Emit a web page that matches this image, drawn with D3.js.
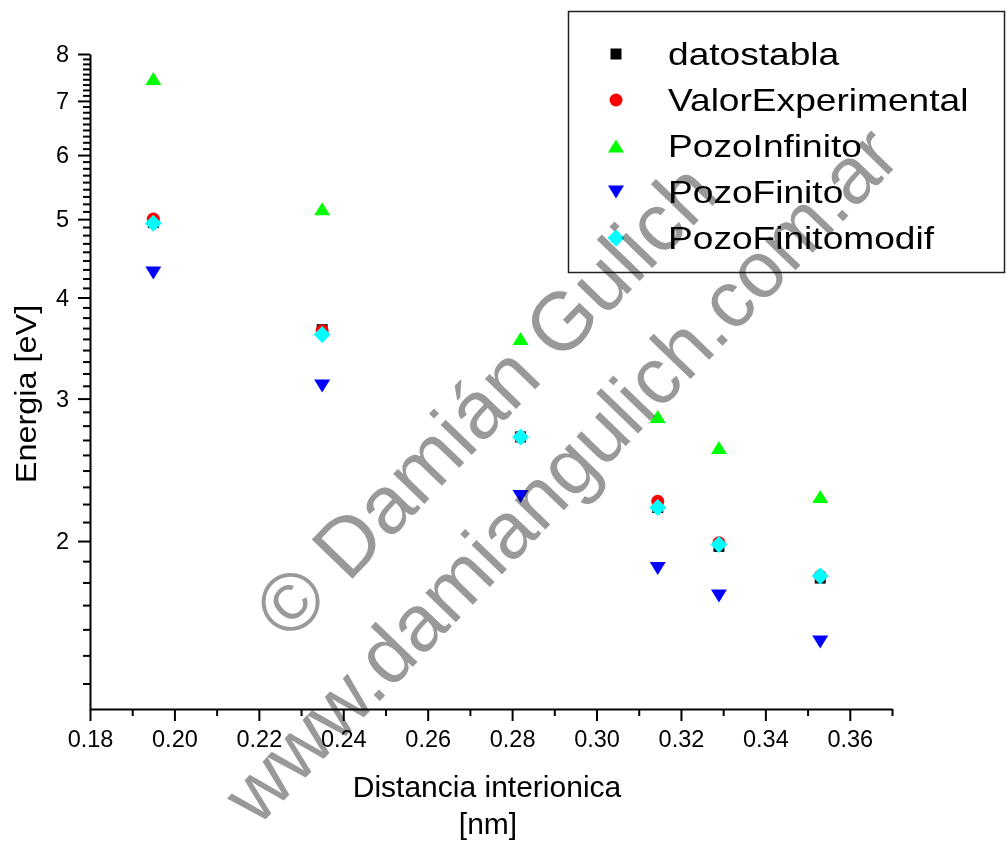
<!DOCTYPE html>
<html>
<head>
<meta charset="utf-8">
<script src="https://cdn.jsdelivr.net/npm/d3@7"></script>
<style>
  html, body { margin: 0; padding: 0; background: #fff; }
  svg { display: block; font-family: "Liberation Sans", Arial, sans-serif; }
  .watermark { mix-blend-mode: multiply; }
</style>
</head>
<body>
<svg class="chart"></svg>
<script>
//======
// Data
//======

var distancias = [0.195, 0.235, 0.282, 0.3145, 0.329, 0.353];

var datosTabla        = [4.95, 3.65, 2.69, 2.20, 1.97, 1.80];
var valorExperimental = [5.00, 3.64, 2.69, 2.24, 1.99, 1.81];
var pozoInfinito      = [7.46, 5.15, 3.56, 2.85, 2.61, 2.27];
var pozoFinito        = [4.29, 3.11, 2.27, 1.85, 1.71, 1.50];
var pozoFinitoModif   = [4.94, 3.60, 2.69, 2.20, 1.98, 1.81];

var seriesNames = ["datostabla", "ValorExperimental", "PozoInfinito", "PozoFinito", "PozoFinitomodif"];

var xTicks = [0.18, 0.20, 0.22, 0.24, 0.26, 0.28, 0.30, 0.32, 0.34, 0.36];
var yTicks = [2, 3, 4, 5, 6, 7, 8];

//=======
// Chart
//=======

var width = 1007,
  height = 844;

var svg = d3.select(".chart")
  .attr("width", width)
  .attr("height", height);

var xScale = d3.scaleLinear()
  .domain([0.18, 0.37])
  .range([90, 892]);

var yScale = d3.scaleLog()
  .domain([1.24, 8])
  .range([709, 54]);

// minor ticks: 8 between each pair of majors (9 subdivisions)
var yMinor = [];
for (var m = 1; m < 8; m++) {
  for (var k = 1; k < 9; k++) {
    var v = m + k / 9;
    if (v >= 1.24 && v <= 8) yMinor.push(v);
  }
}
var xMinor = xTicks.map(function(d) { return d + 0.01; });

// minor ticks first, then the major axis with the line
svg.append("g")
  .attr("class", "axis minor")
  .attr("transform", "translate(90,0)")
  .call(d3.axisLeft(yScale).tickValues(yMinor).tickSize(7).tickFormat(""));

svg.append("g")
  .attr("class", "axis minor")
  .attr("transform", "translate(0,709)")
  .call(d3.axisBottom(xScale).tickValues(xMinor).tickSize(7).tickFormat(""));

var yAxis = svg.append("g")
  .attr("class", "axis")
  .attr("transform", "translate(90,0)")
  .call(d3.axisLeft(yScale).tickValues(yTicks).tickSize(12).tickSizeOuter(0).tickPadding(9).tickFormat(d3.format("d")));

var xAxis = svg.append("g")
  .attr("class", "axis")
  .attr("transform", "translate(0,709)")
  .call(d3.axisBottom(xScale).tickValues(xTicks).tickSize(12).tickSizeOuter(0).tickPadding(9).tickFormat(d3.format(".2f")));

svg.selectAll(".minor .domain").remove();
svg.selectAll(".axis line").attr("stroke", "#000").attr("stroke-width", 2);
svg.selectAll(".axis .domain").attr("stroke", "#000").attr("stroke-width", 2);
svg.selectAll(".axis text")
  .attr("fill", "#000")
  .style("font-size", "23.5px")
  .style("font-family", "'Liberation Sans', Arial, sans-serif");

// axis titles
svg.append("text")
  .attr("transform", "translate(36,394) rotate(-90) scale(1.08,1)")
  .attr("text-anchor", "middle")
  .style("font-size", "30px")
  .text("Energia [eV]");

svg.append("text")
  .attr("x", 487)
  .attr("y", 797)
  .attr("text-anchor", "middle")
  .style("font-size", "30px")
  .text("Distancia interionica");

svg.append("text")
  .attr("x", 488)
  .attr("y", 834)
  .attr("text-anchor", "middle")
  .style("font-size", "30px")
  .text("[nm]");

//=========
// Symbols
//=========

var triUp = {
  draw: function(ctx) {
    ctx.moveTo(0, -6.5); ctx.lineTo(8, 6.5); ctx.lineTo(-8, 6.5); ctx.closePath();
  }
};
var triDown = {
  draw: function(ctx) {
    ctx.moveTo(0, 6.5); ctx.lineTo(8, -6.5); ctx.lineTo(-8, -6.5); ctx.closePath();
  }
};
var diamond = {
  draw: function(ctx) {
    ctx.moveTo(0, -8.5); ctx.lineTo(8.5, 0); ctx.lineTo(0, 8.5); ctx.lineTo(-8.5, 0); ctx.closePath();
  }
};

var series = [
  { values: datosTabla,        color: "#000000", shape: d3.symbol(d3.symbolSquare, 121) },
  { values: valorExperimental, color: "#ff0000", shape: d3.symbol(d3.symbolCircle, 133) },
  { values: pozoInfinito,      color: "#00ff00", shape: d3.symbol(triUp) },
  { values: pozoFinito,        color: "#0000ff", shape: d3.symbol(triDown) },
  { values: pozoFinitoModif,   color: "#00ffff", shape: d3.symbol(diamond) }
];

series.forEach(function(s) {
  svg.append("g")
    .selectAll("path")
    .data(s.values)
    .enter()
    .append("path")
    .attr("d", s.shape)
    .attr("fill", s.color)
    .attr("transform", function(d, i) {
      return "translate(" + xScale(distancias[i]) + "," + yScale(d) + ")";
    });
});

//========
// Legend
//========

var legend = svg.append("g");

legend.append("rect")
  .attr("x", 568.5)
  .attr("y", 11.5)
  .attr("width", 436)
  .attr("height", 261)
  .attr("fill", "#fff")
  .attr("stroke", "#222")
  .attr("stroke-width", 1.5);

series.forEach(function(s, i) {
  var ly = 54 + i * 46;
  legend.append("path")
    .attr("d", s.shape)
    .attr("fill", s.color)
    .attr("transform", "translate(616," + ly + ")");
  legend.append("text")
    .attr("transform", "translate(668," + (ly + 11) + ") scale(1.16,1)")
    .style("font-size", "32px")
    .text(seriesNames[i]);
});

//===========
// Watermark
//===========

svg.append("text")
  .attr("class", "watermark")
  .attr("transform", "translate(485,400) rotate(-46)")
  .attr("text-anchor", "middle")
  .attr("dy", "0.35em")
  .attr("fill", "#999999")
  .style("font-size", "82px")
  .text("© Damián Gulich");

svg.append("text")
  .attr("class", "watermark")
  .attr("transform", "translate(560,474) rotate(-46)")
  .attr("text-anchor", "middle")
  .attr("dy", "0.35em")
  .attr("fill", "#999999")
  .style("font-size", "80px")
  .text("www.damiangulich.com.ar");
</script>
</body>
</html>
